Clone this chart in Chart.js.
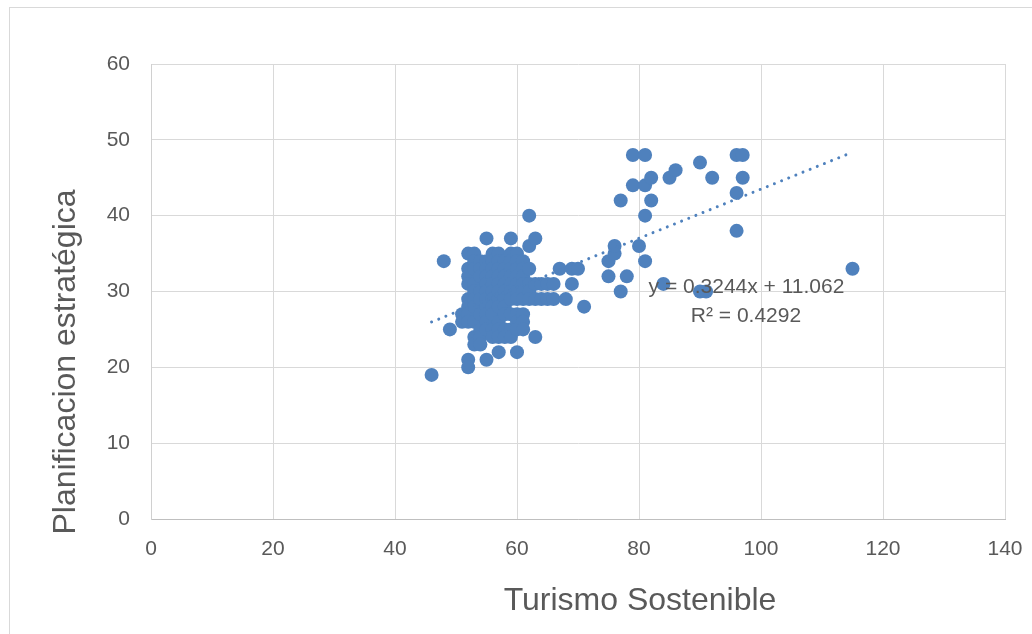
<!DOCTYPE html>
<html><head><meta charset="utf-8">
<script src="https://cdn.jsdelivr.net/npm/chart.js@4.4.0/dist/chart.umd.min.js"></script>
<style>html,body{margin:0;padding:0;background:#fff;overflow:hidden}</style>
</head><body>
<canvas id="c" width="1032" height="634"></canvas>
<script>
// ---- data ----
const turismo = [
  46,48,49,
  51,51,
  52,52,52,52,52,52,52,52,52,52,
  53,53,53,53,53,53,53,53,53,53,
  54,54,54,54,54,54,54,54,54,
  55,55,55,55,55,55,55,55,55,55,55,55,
  56,56,56,56,56,56,56,56,56,56,56,
  57,57,57,57,57,57,57,57,57,57,57,57,
  58,58,58,58,58,58,58,58,58,58,
  59,59,59,59,59,59,59,59,59,59,59,
  60,60,60,60,60,60,60,60,60,60,60,
  61,61,61,61,61,61,61,61,61,
  62,62,62,62,62,62,
  63,63,63,63,
  64,64,65,65,66,66,67,68,69,69,70,71,
  75,75,76,76,77,77,78,79,79,80,81,81,81,81,82,82,84,85,86,90,90,91,92,96,96,96,97,97,115
];
const planificacion = [
  19,34,25,
  27,26,
  35,33,32,31,29,28,27,26,21,20,
  35,34,33,31,30,29,28,26,24,23,
  34,33,32,30,29,27,25,24,23,
  37,34,33,32,31,30,29,28,27,26,25,21,
  35,34,33,32,31,30,29,28,27,25,24,
  35,34,33,32,31,30,29,28,26,25,24,22,
  34,33,32,31,30,29,28,27,25,24,
  37,35,34,33,32,31,30,29,27,25,24,
  35,34,33,32,31,30,29,27,26,25,22,
  34,33,32,31,30,29,27,26,25,
  40,36,33,31,30,29,
  37,31,29,24,
  31,29,31,29,31,29,33,29,33,31,33,28,
  32,34,35,36,30,42,32,48,44,36,48,44,40,34,45,42,31,45,46,47,30,30,45,48,43,38,48,45,33
];
const xTicks = [0,20,40,60,80,100,120,140];
const yTicks = [0,10,20,30,40,50,60];
const xTitle = 'Turismo Sostenible';
const yTitle = 'Planificacion estratégica';
const trendSlope = 0.3244;
const trendIntercept = 11.062;
const trendRange = [46, 115];
const equationLines = ['y = 0.3244x + 11.062', 'R\u00B2 = 0.4292'];

// ---- chart ----
const BLUE = '#4f81bd';
const TEXT = '#595959';
const FONT = '"Liberation Sans", Arial, sans-serif';

const points = turismo.map((x, i) => ({x: x, y: planificacion[i]}));
const trend = trendRange.map(x => ({x: x, y: trendSlope * x + trendIntercept}));

const decor = {
  id: 'decor',
  beforeDraw(chart) {
    const ctx = chart.ctx;
    ctx.save();
    ctx.fillStyle = '#ffffff';
    ctx.fillRect(0, 0, chart.width, chart.height);
    ctx.strokeStyle = '#d9d9d9';
    ctx.lineWidth = 1;
    ctx.strokeRect(9.5, 7.5, 1200, 800);
    ctx.restore();
  },
  afterDatasetsDraw(chart) {
    const ctx = chart.ctx;
    ctx.save();
    ctx.fillStyle = TEXT;
    ctx.font = '21px ' + FONT;
    ctx.textAlign = 'center';
    ctx.textBaseline = 'middle';
    ctx.fillText(equationLines[0], 746.5, 287);
    ctx.fillText(equationLines[1], 746, 316);
    ctx.restore();
  },
  afterDraw(chart) {
    const ctx = chart.ctx;
    ctx.save();
    ctx.fillStyle = TEXT;
    ctx.font = '32px ' + FONT;
    ctx.textAlign = 'center';
    ctx.textBaseline = 'middle';
    ctx.fillText(xTitle, 640, 601);
    ctx.translate(66, 362);
    ctx.rotate(-Math.PI / 2);
    ctx.fillText(yTitle, 0, 0);
    ctx.restore();
  }
};

new Chart(document.getElementById('c'), {
  type: 'scatter',
  data: {
    datasets: [
      {
        data: trend,
        showLine: true,
        borderColor: BLUE,
        borderWidth: 3,
        borderDash: [0.001, 7.7],
        borderCapStyle: 'round',
        pointRadius: 0,
        fill: false,
        order: 0
      },
      {
        data: points,
        backgroundColor: BLUE,
        borderColor: BLUE,
        borderWidth: 0,
        pointRadius: 7,
        order: 1
      }
    ]
  },
  options: {
    responsive: false,
    animation: false,
    devicePixelRatio: 1,
    layout: {padding: {left: 0, top: 64, right: 27, bottom: 0}},
    plugins: {legend: {display: false}, tooltip: {enabled: false}},
    scales: {
      x: {
        type: 'linear', min: 0, max: 140,
        afterBuildTicks: s => { s.ticks = xTicks.map(v => ({value: v})); },
        afterFit: s => { s.height = 115; s.paddingLeft = 0; s.paddingRight = 0; },
        ticks: {color: TEXT, font: {family: FONT, size: 21}, padding: 18},
        grid: {color: '#d9d9d9', drawTicks: false},
        border: {color: '#bfbfbf', width: 1}
      },
      y: {
        type: 'linear', min: 0, max: 60,
        afterBuildTicks: s => { s.ticks = yTicks.map(v => ({value: v})); },
        afterFit: s => { s.width = 151; s.paddingTop = 0; s.paddingBottom = 0; },
        ticks: {color: TEXT, font: {family: FONT, size: 21}, padding: 21},
        grid: {color: '#d9d9d9', drawTicks: false},
        border: {color: '#d0d0d0', width: 1}
      }
    }
  },
  plugins: [decor]
});
</script>
</body></html>
